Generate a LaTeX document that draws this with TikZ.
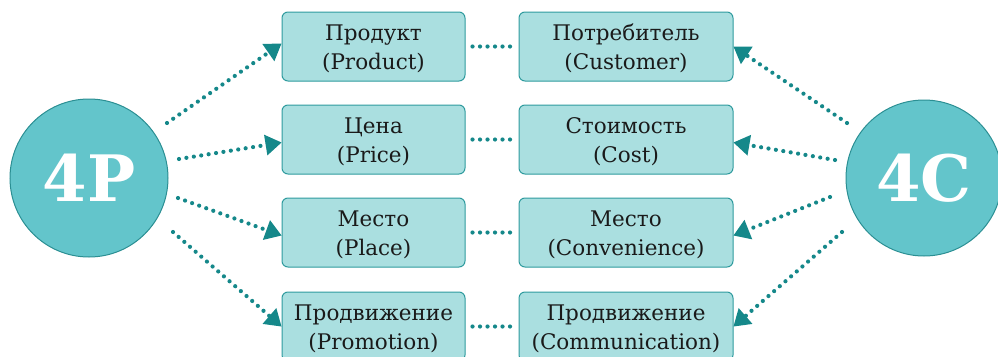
\documentclass[tikz,border=0pt]{standalone}
\usepackage{fontspec}
\setmainfont{DejaVu Serif}
\usetikzlibrary{arrows.meta}
\definecolor{circfill}{HTML}{63C5CB}
\definecolor{circdraw}{HTML}{2B8F93}
\definecolor{boxfill}{HTML}{AADFE0}
\definecolor{boxdraw}{HTML}{2F9B9E}
\definecolor{arr}{HTML}{15888A}
\definecolor{txt}{HTML}{1A1A1A}
\newcommand{\tallstrut}{\rule{0pt}{21pt}}
\tikzset{
  bigcirc/.style={circle,fill=circfill,draw=circdraw,line width=1pt,minimum size=158pt,inner sep=0pt,
    text=white,font=\fontsize{64}{64}\selectfont\bfseries},
  lbox/.style={rectangle,rounded corners=6pt,fill=boxfill,draw=boxdraw,line width=1pt,
    minimum height=69pt,inner sep=0pt,align=center,text=txt,
    font=\fontsize{21.5}{29}\selectfont},
  dots/.style={arr,line width=4.2pt,line cap=round,dash pattern=on 0pt off 7.5pt},
  arrowed/.style={dots,-{Triangle[length=16pt,width=21pt,line width=0pt,round=false]}},
}
\begin{document}
\begin{tikzpicture}[x=1pt,y=-1pt]
\useasboundingbox (0,0) rectangle (998,356);
\node[bigcirc] (P) at (89,178) {4P};
\node[bigcirc,minimum size=156pt] (C) at (924,178) {4C};
\node[lbox,minimum width=183pt] (b1) at (373.5,46.5) {\tallstrut Продукт\\(Product)};
\node[lbox,minimum width=183pt] (b2) at (373.5,139.5) {\tallstrut Цена\\(Price)};
\node[lbox,minimum width=183pt] (b3) at (373.5,232.5) {\tallstrut Место\\(Place)};
\node[lbox,minimum width=183pt] (b4) at (373.5,326.5) {\tallstrut Продвижение\\(Promotion)};
\node[lbox,minimum width=214pt] (c1) at (626,46.5) {\tallstrut Потребитель\\(Customer)};
\node[lbox,minimum width=214pt] (c2) at (626,139.5) {\tallstrut Стоимость\\(Cost)};
\node[lbox,minimum width=214pt] (c3) at (626,232.5) {\tallstrut Место\\(Convenience)};
\node[lbox,minimum width=214pt] (c4) at (626,326.5) {\tallstrut Продвижение\\(Communication)};
\coordinate (p1) at (167,123);
\coordinate (p2) at (179,159);
\coordinate (p3) at (178,198);
\coordinate (p4) at (173,232);
\coordinate (q1) at (847,123);
\coordinate (q2) at (835,160);
\coordinate (q3) at (830,197);
\coordinate (q4) at (842,232);
\draw[arrowed] (p1) -- ([yshift=3pt]b1.west);
\draw[arrowed] (p2) -- ([yshift=-3pt]b2.west);
\draw[arrowed] (p3) -- ([yshift=-3pt]b3.west);
\draw[arrowed] (p4) -- (b4.west);
\draw[arrowed] (q1) -- (c1.east);
\draw[arrowed] (q2) -- ([yshift=-3pt]c2.east);
\draw[arrowed] (q3) -- ([yshift=-3pt]c3.east);
\draw[arrowed] (q4) -- (c4.east);
\draw[dots,shorten <=7pt,shorten >=5pt] (b1.east) -- (c1.west);
\draw[dots,shorten <=7pt,shorten >=5pt] (b2.east) -- (c2.west);
\draw[dots,shorten <=7pt,shorten >=5pt] (b3.east) -- (c3.west);
\draw[dots,shorten <=7pt,shorten >=5pt] (b4.east) -- (c4.west);
\end{tikzpicture}
\end{document}
